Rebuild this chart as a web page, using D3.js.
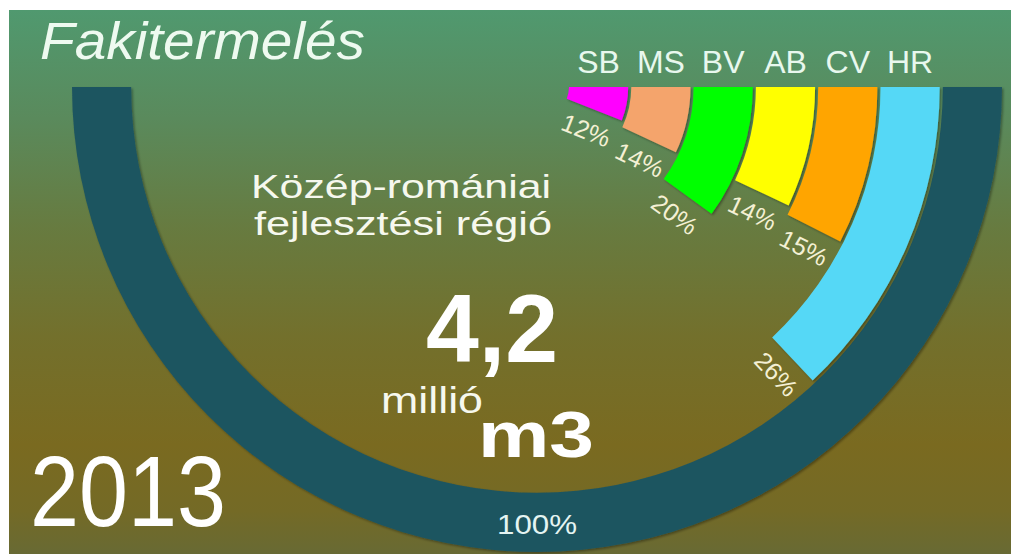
<!DOCTYPE html>
<html>
<head>
<meta charset="utf-8">
<script src="https://cdn.jsdelivr.net/npm/d3@7"></script>
<style>
	html, body { margin: 0; padding: 0; background: #fff; }
	svg { display: block; }
	text { font-family: "Liberation Sans", Arial, sans-serif; }
</style>
</head>
<body>
<div id="chart"></div>
<script>
// counties of the Centre development region, share of the 2013 timber harvest (%)
var categories = ['SB', 'MS', 'BV', 'AB', 'CV', 'HR'];
var shares = [12, 14, 20, 14, 15, 26];
var colors = ['#ff00ff', '#f4a46c', '#00ff00', '#ffff00', '#ffa500', '#55d8f6'];
var totalShare = 100;
var totalVolume = '4,2';
var year = '2013';

var width = 1011, height = 554;
var cx = 537, cy = 87;

var svg = d3.select('#chart').append('svg')
	.attr('width', width)
	.attr('height', height);

var defs = svg.append('defs');
var grad = defs.append('linearGradient')
	.attr('id', 'bg')
	.attr('x1', 0).attr('y1', 0).attr('x2', 0).attr('y2', 1);
[[0, '#50996f'], [0.2, '#5a8a5c'], [0.4, '#677b40'], [0.6, '#73702c'], [0.8, '#7a6a20'], [0.92, '#746a26'], [1, '#686a34']]
	.forEach(function (s) {
		grad.append('stop').attr('offset', s[0]).attr('stop-color', s[1]);
	});

var shadow = defs.append('filter').attr('id', 'shd')
	.attr('x', '-10%').attr('y', '-10%').attr('width', '120%').attr('height', '120%');
shadow.append('feDropShadow')
	.attr('dx', 1.5).attr('dy', 1.5).attr('stdDeviation', 1)
	.attr('flood-color', '#000').attr('flood-opacity', 0.35);

svg.append('rect')
	.attr('x', 9).attr('y', 10)
	.attr('width', width - 9).attr('height', height - 10)
	.attr('fill', 'url(#bg)');

// 0% at 3 o'clock, 100% at 9 o'clock, going clockwise through the bottom
var angle = d3.scaleLinear().domain([0, 100]).range([Math.PI / 2, Math.PI * 3 / 2]);
var ring = d3.scaleBand()
	.domain(categories.concat(['total']))
	.range([32, 465])
	.paddingInner(0.05);
var bw = ring.bandwidth();

var arc = d3.arc();
var g = svg.append('g').attr('transform', 'translate(' + cx + ',' + cy + ')');

// total ring
g.append('path')
	.attr('d', arc({innerRadius: ring('total'), outerRadius: ring('total') + bw,
		startAngle: angle(0), endAngle: angle(totalShare)}))
	.attr('fill', '#1e5560')
	.attr('filter', 'url(#shd)');

var data = categories.map(function (c, i) {
	return {name: c, value: shares[i], color: colors[i]};
});

g.selectAll('path.bar')
	.data(data)
	.enter().append('path')
	.attr('class', 'bar')
	.attr('d', function (d) {
		return arc({innerRadius: ring(d.name), outerRadius: ring(d.name) + bw,
			startAngle: angle(0), endAngle: angle(d.value)});
	})
	.attr('fill', function (d) { return d.color; })
	.attr('filter', 'url(#shd)');

// percentage labels, lying along the end edge of each bar
g.selectAll('text.pct')
	.data(data)
	.enter().append('text')
	.attr('class', 'pct')
	.attr('transform', function (d) {
		return 'rotate(' + ((angle(d.value) - Math.PI / 2) * 180 / Math.PI) + ')';
	})
	.attr('x', function (d) { return ring(d.name) + bw / 2; })
	.attr('y', 22)
	.attr('text-anchor', 'middle')
	.attr('dominant-baseline', 'central')
	.attr('font-size', 25)
	.attr('fill', '#f4f0d4')
	.text(function (d) { return d.value + '%'; });

// county codes above the rings
g.selectAll('text.cat')
	.data(data)
	.enter().append('text')
	.attr('class', 'cat')
	.attr('x', function (d) { return ring(d.name) + bw / 2; })
	.attr('y', 73 - cy)
	.attr('text-anchor', 'middle')
	.attr('font-size', 32)
	.attr('fill', '#e8f8ee')
	.text(function (d) { return d.name; });

g.append('text')
	.attr('x', 0)
	.attr('y', 534 - cy)
	.attr('text-anchor', 'middle')
	.attr('font-size', 28)
	.attr('textLength', 80).attr('lengthAdjust', 'spacingAndGlyphs')
	.attr('fill', '#e4f4f2')
	.text(totalShare + '%');

var addText = function (txt, x, y, size, w, opts) {
	opts = opts || {};
	return svg.append('text')
		.attr('x', x).attr('y', y)
		.attr('text-anchor', opts.anchor || 'middle')
		.attr('font-size', size)
		.attr('font-weight', opts.bold ? 'bold' : 'normal')
		.attr('font-style', opts.italic ? 'italic' : 'normal')
		.attr('textLength', w).attr('lengthAdjust', 'spacingAndGlyphs')
		.attr('fill', opts.fill || '#f6f8ee')
		.text(txt);
};

addText('Fakitermelés', 40, 59, 51, 325, {anchor: 'start', italic: true, fill: '#eefaf0'});
addText('Közép-romániai', 401, 198, 33, 300);
addText('fejlesztési régió', 403, 235, 33, 298);
addText(totalVolume, 492, 362, 96, 132, {bold: true, fill: '#ffffff'});
addText('millió', 432, 413, 37, 102);
addText('m3', 536, 457, 64, 116, {bold: true, fill: '#ffffff'});
addText(year, 128, 526, 100, 196, {fill: '#ffffff'});
</script>
</body>
</html>
